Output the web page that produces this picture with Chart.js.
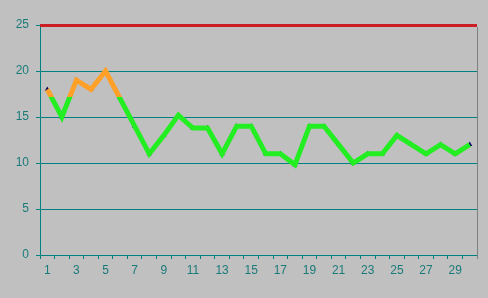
<!DOCTYPE html>
<html>
<head>
<meta charset="utf-8">
<script src="https://cdn.jsdelivr.net/npm/chart.js@4/dist/chart.umd.min.js"></script>
<style>
html,body{margin:0;padding:0;background:#c0c0c0;}
#wrap{width:488px;height:298px;}
</style>
</head>
<body>
<div id="wrap"><canvas id="c" width="488" height="298"></canvas></div>
<script>
const categories = ["1","2","3","4","5","6","7","8","9","10","11","12","13","14","15","16","17","18","19","20","21","22","23","24","25","26","27","28","29","30"];
const values = [18,15,19,18,20,17,14,11,13,15.2,13.8,13.8,11,14,14,11,11,9.8,14,14,12,10,11,11,13,12,11,12,11,12];
const yTicks = [0,5,10,15,20,25];
const targetValue = 25;
const highThreshold = 17.2;

const TEAL = 'rgb(0,128,128)';
const TEXT = '#1a7a7a';
const GREEN = '#22ee22';
const ORANGE = '#ffa028';
const RED = '#cc1f25';

const framePlugin = {
  id: 'frame',
  beforeDatasetsDraw(chart) {
    const {ctx, chartArea, scales} = chart;
    ctx.save();
    ctx.lineWidth = 1;
    ctx.strokeStyle = TEAL;
    yTicks.forEach(v => {
      if (v === 0 || v === targetValue) return;
      const y = Math.round(scales.y.getPixelForValue(v)) + 0.5;
      ctx.beginPath();
      ctx.moveTo(chartArea.left, y);
      ctx.lineTo(chartArea.right, y);
      ctx.stroke();
    });
    const yt = Math.round(scales.y.getPixelForValue(targetValue));
    ctx.strokeStyle = RED;
    ctx.lineWidth = 3;
    ctx.beginPath();
    ctx.moveTo(chartArea.left, yt + 0.5);
    ctx.lineTo(chartArea.right, yt + 0.5);
    ctx.stroke();
    ctx.strokeStyle = '#808080';
    ctx.lineWidth = 1;
    ctx.beginPath();
    ctx.moveTo(Math.round(chartArea.right) + 0.5, chartArea.top + 2);
    ctx.lineTo(Math.round(chartArea.right) + 0.5, chartArea.bottom + 4);
    ctx.stroke();
    ctx.restore();
  }
};

function lineColor(context) {
  const chart = context.chart;
  const {chartArea, scales} = chart;
  if (!chartArea) return GREEN;
  const y = scales.y.getPixelForValue(highThreshold);
  const f = Math.min(1, Math.max(0, (y - chartArea.top) / (chartArea.bottom - chartArea.top)));
  const g = chart.ctx.createLinearGradient(0, chartArea.top, 0, chartArea.bottom);
  g.addColorStop(0, ORANGE);
  g.addColorStop(f, ORANGE);
  g.addColorStop(f, GREEN);
  g.addColorStop(1, GREEN);
  return g;
}

new Chart(document.getElementById('c'), {
  type: 'line',
  data: {
    labels: categories,
    datasets: [
      {
        data: values,
        showLine: false,
        pointStyle: 'triangle',
        pointRadius: 3,
        pointBackgroundColor: '#000060',
        pointBorderColor: '#000060',
        pointBorderWidth: 0,
        order: 2
      },
      {
        data: values,
        borderColor: lineColor,
        borderWidth: 5,
        pointRadius: 0,
        tension: 0,
        order: 1
      }
    ]
  },
  plugins: [framePlugin],
  options: {
    responsive: false,
    animation: false,
    events: [],
    layout: {padding: {top: 25, right: 11, left: 0, bottom: 0}},
    plugins: {legend: {display: false}, tooltip: {enabled: false}},
    scales: {
      x: {
        offset: true,
        grid: {
          offset: true,
          drawOnChartArea: false,
          drawTicks: true,
          tickLength: 4,
          color: TEAL,
          tickColor: TEAL
        },
        border: {display: true, color: TEAL, width: 1},
        ticks: {
          autoSkip: false,
          maxRotation: 0,
          padding: 4,
          color: TEXT,
          font: {family: 'Liberation Sans', size: 12},
          callback: function(v, i) { return (i % 2 === 0) ? categories[i] : ''; }
        },
        afterFit(scale) { scale.height = 43; }
      },
      y: {
        min: 0,
        max: 25,
        afterBuildTicks(scale) { scale.ticks = yTicks.map(v => ({value: v})); },
        grid: {
          drawOnChartArea: false,
          color: TEAL,
          lineWidth: 1,
          tickColor: TEAL,
          tickLength: 4
        },
        border: {display: true, color: TEAL, width: 1},
        ticks: {
          padding: 7,
          color: TEXT,
          font: {family: 'Liberation Sans', size: 12}
        },
        afterFit(scale) { scale.width = 40; }
      }
    }
  }
});
</script>
</body>
</html>
